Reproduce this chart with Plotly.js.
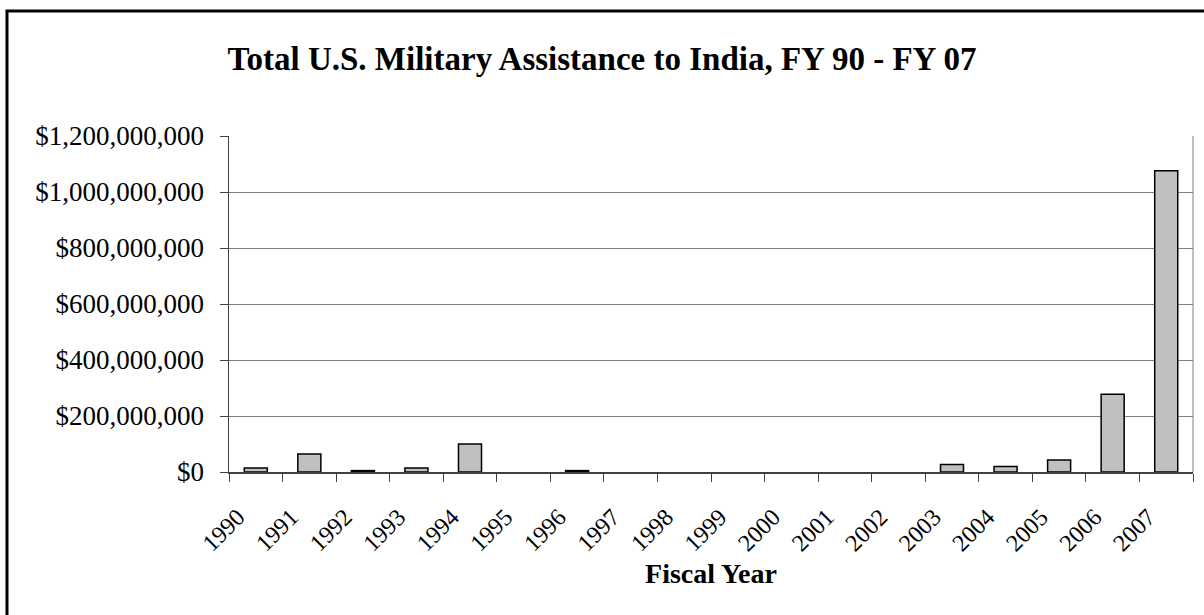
<!DOCTYPE html>
<html>
<head>
<meta charset="utf-8">
<script src="https://cdn.plot.ly/plotly-3.0.1.min.js"></script>
<style>
html,body{margin:0;padding:0;background:#fff;}
#chart{width:1204px;height:615px;}
</style>
</head>
<body>
<div id="chart"></div>
<script>
const years = ["1990","1991","1992","1993","1994","1995","1996","1997","1998","1999","2000","2001","2002","2003","2004","2005","2006","2007"];
const assistance = [14000000, 64000000, 5000000, 14000000, 100000000, 0, 5000000, 0, 0, 0, 0, 0, 0, 27000000, 20000000, 43000000, 278000000, 1076000000];
const titleText = "Total U.S. Military Assistance to India, FY 90 - FY 07";
const xTitle = "Fiscal Year";

const FONT = "Liberation Serif, Times New Roman, serif";

const trace = {
  type: "bar",
  x: years,
  y: assistance,
  marker: {color: "#c0c0c0", line: {color: "#000000", width: assistance.map(v => v > 0 ? 1.5 : 0)}},
  hoverinfo: "x+y"
};

const layout = {
  width: 1204, height: 615,
  margin: {l: 229, r: 11, t: 136, b: 143},
  paper_bgcolor: "#ffffff",
  plot_bgcolor: "#ffffff",
  showlegend: false,
  bargap: 0.57,
  font: {family: FONT, color: "#000000"},
  title: {
    text: "<b>" + titleText + "</b>",
    font: {family: FONT, size: 33, color: "#000000"},
    x: 0.5, xanchor: "center", xref: "container",
    y: 1 - 58/615, yanchor: "middle", yref: "container"
  },
  xaxis: {
    type: "category",
    tickson: "boundaries",
    ticks: "outside", ticklen: 8, tickcolor: "#404040", tickwidth: 1,
    showline: true, linecolor: "#404040", linewidth: 1.5,
    showgrid: false,
    tickangle: -45,
    ticklabelstandoff: 20,
    ticklabelshift: -18,
    tickfont: {family: FONT, size: 24, color: "#000000"},
    title: {text: "<b>" + xTitle + "</b>", font: {family: FONT, size: 28, color: "#000000"}, standoff: 8},
    automargin: false
  },
  yaxis: {
    range: [0, 1200000000],
    dtick: 200000000,
    tickformat: "$,",
    ticks: "outside", ticklen: 8, tickcolor: "#404040", tickwidth: 1,
    showline: true, linecolor: "#404040", linewidth: 1.5,
    showgrid: true, gridcolor: "#808080", gridwidth: 1,
    zeroline: false,
    ticklabelstandoff: 10,
    tickfont: {family: FONT, size: 27, color: "#000000"},
    automargin: false
  },
  shapes: [
    {type: "line", xref: "paper", yref: "paper", x0: 1, x1: 1, y0: 0, y1: 1, line: {color: "#808080", width: 1}},
    {type: "rect", xref: "paper", yref: "paper", x0: -0.2303, x1: 1.1, y0: -0.6, y1: 1.372, line: {color: "#000000", width: 3}, fillcolor: "rgba(0,0,0,0)", layer: "above"}
  ]
};

Plotly.newPlot("chart", [trace], layout, {displayModeBar: false, staticPlot: true});
</script>
</body>
</html>
